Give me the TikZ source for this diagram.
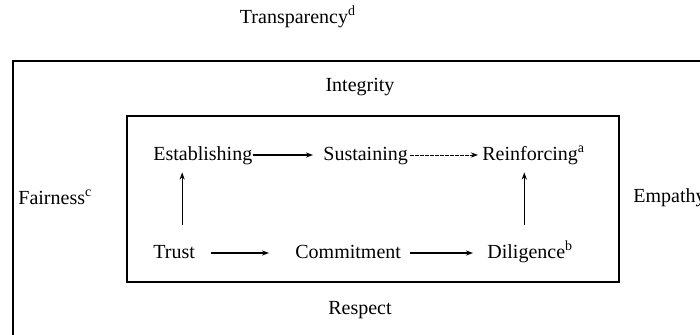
\documentclass[tikz,border=0pt]{standalone}
\usepackage{fontspec}
\setmainfont{Liberation Serif}
\usetikzlibrary{arrows.meta}
\begin{document}
\begin{tikzpicture}[x=0.5pt,y=-0.5pt,
  lbl/.style={font=\fontsize{10}{12}\selectfont, inner sep=0pt, text height=7pt, text depth=2pt},
  arr/.style={-{Stealth[length=3.6pt,width=2.6pt]}, line width=0.55pt},
  darr/.style={arr, line width=0.45pt, dash pattern=on 2pt off 0.5pt},
  frame/.style={line width=0.75pt}]
\useasboundingbox (0,0) rectangle (700,334);
\begin{scope}
  \clip (0,0) rectangle (700,334);
  \draw[frame] (13,61) rectangle (730,370);
\end{scope}
\draw[frame] (127,116) rectangle (619,282);

\node[lbl] (transp) at (298,18) {Transparency\textsuperscript{d}};
\node[lbl] (integ) at (360,86) {Integrity};
\node[lbl] (resp) at (360,309) {Respect};
\node[lbl, anchor=west] (fair) at (18,199) {Fairness\textsuperscript{c}};
\node[lbl, anchor=west] (emp) at (633,197) {Empathy};

\node[lbl, anchor=west] (est) at (153,155) {Establishing};
\node[lbl, anchor=west] (sus) at (323,155) {Sustaining};
\node[lbl, anchor=west] (rei) at (482,155) {Reinforcing\textsuperscript{a}};
\node[lbl, anchor=west] (trust) at (153,253) {Trust};
\node[lbl, anchor=west] (com) at (295,253) {Commitment};
\node[lbl, anchor=west] (dil) at (487,253) {Diligence\textsuperscript{b}};

\draw[arr, shorten >=5pt] (est) -- (sus);
\draw[darr, shorten <=1pt, shorten >=2pt] (sus) -- (rei);
\draw[arr, shorten <=8pt, shorten >=13pt] (trust) -- (com);
\draw[arr, shorten <=4.5pt, shorten >=7pt] (com) -- (dil);
\draw[arr, shorten <=9.5pt, shorten >=4pt] ([xshift=4pt]trust.north) -- ([xshift=4pt]trust.north |- est.south);
\draw[arr, shorten <=9.5pt, shorten >=4pt] ([xshift=-3pt]dil.north) -- ([xshift=-3pt]dil.north |- rei.south);
\end{tikzpicture}
\end{document}
